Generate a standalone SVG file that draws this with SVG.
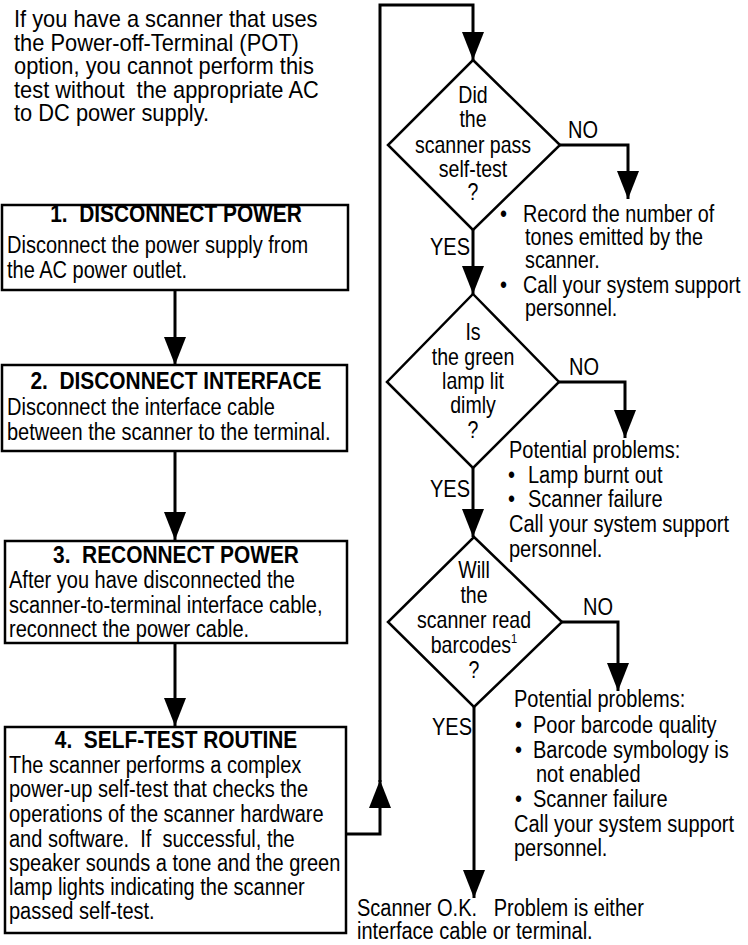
<svg xmlns="http://www.w3.org/2000/svg" width="748" height="945" viewBox="0 0 748 945">
<defs>
<marker id="ah" markerUnits="userSpaceOnUse" markerWidth="30" markerHeight="24" refX="28" refY="11" orient="auto">
<path d="M0,0 L28,11 L0,22 Z" fill="#000"/>
</marker>
<style>
text{font-family:"Liberation Sans",Arial,sans-serif;font-size:23px;fill:#000;white-space:pre}
.t{font-weight:bold;text-anchor:middle;font-size:24px}
.c{text-anchor:middle}
.box{fill:#fff;stroke:#000;stroke-width:2.5}
.dia{fill:#fff;stroke:#000;stroke-width:2.5}
.ln{fill:none;stroke:#000;stroke-width:3}
</style>
</defs>
<g id="note">
<text transform="translate(14,27) scale(0.95,1)">If you have a scanner that uses</text>
<text transform="translate(14,50.5) scale(0.95,1)">the Power-off-Terminal (POT)</text>
<text transform="translate(14,74) scale(0.95,1)">option, you cannot perform this</text>
<text xml:space="preserve" transform="translate(14,97.5) scale(0.95,1)">test without  the appropriate AC</text>
<text transform="translate(14,121) scale(0.95,1)">to DC power supply.</text>
</g>
<g id="connectors">
<path class="ln" d="M175,290 V365" marker-end="url(#ah)"/>
<path class="ln" d="M175,451 V540" marker-end="url(#ah)"/>
<path class="ln" d="M175,643 V726" marker-end="url(#ah)"/>
<path class="ln" d="M347,834 H380 V780" marker-end="url(#ah)"/>
<path class="ln" d="M380,782 V5 H473 V60" marker-end="url(#ah)"/>
<path class="ln" d="M560,145 H628 V199" marker-end="url(#ah)"/>
<path class="ln" d="M473,230 V294" marker-end="url(#ah)"/>
<path class="ln" d="M559,382 H625 V438" marker-end="url(#ah)"/>
<path class="ln" d="M473,468 V537" marker-end="url(#ah)"/>
<path class="ln" d="M562,622 H618 V691" marker-end="url(#ah)"/>
<path class="ln" d="M474,707 V898" marker-end="url(#ah)"/>
</g>
<g id="step1">
<rect class="box" x="2" y="205" width="346" height="85"/>
<text xml:space="preserve" class="t" transform="translate(176,222) scale(0.87,1)">1.  DISCONNECT POWER</text>
<text transform="translate(7,253) scale(0.87,1)">Disconnect the power supply from</text>
<text transform="translate(7,278) scale(0.87,1)">the AC power outlet.</text>
</g>
<g id="step2">
<rect class="box" x="2" y="365" width="345" height="86"/>
<text xml:space="preserve" class="t" transform="translate(176,389) scale(0.87,1)">2.  DISCONNECT INTERFACE</text>
<text transform="translate(7,415) scale(0.87,1)">Disconnect the interface cable</text>
<text transform="translate(7,440) scale(0.87,1)">between the scanner to the terminal.</text>
</g>
<g id="step3">
<rect class="box" x="5" y="541" width="342" height="102"/>
<text xml:space="preserve" class="t" transform="translate(176,563) scale(0.87,1)">3.  RECONNECT POWER</text>
<text transform="translate(9,588) scale(0.87,1)">After you have disconnected the</text>
<text transform="translate(9,613) scale(0.87,1)">scanner-to-terminal interface cable,</text>
<text transform="translate(9,637) scale(0.87,1)">reconnect the power cable.</text>
</g>
<g id="step4">
<rect class="box" x="5" y="727" width="341" height="206"/>
<text xml:space="preserve" class="t" transform="translate(176,748) scale(0.87,1)">4.  SELF-TEST ROUTINE</text>
<text transform="translate(9,773) scale(0.87,1)">The scanner performs a complex</text>
<text transform="translate(9,797) scale(0.87,1)">power-up self-test that checks the</text>
<text transform="translate(9,822) scale(0.87,1)">operations of the scanner hardware</text>
<text xml:space="preserve" transform="translate(9,847) scale(0.87,1)">and software.  If  successful, the</text>
<text transform="translate(9,871) scale(0.87,1)">speaker sounds a tone and the green</text>
<text transform="translate(9,895) scale(0.87,1)">lamp lights indicating the scanner</text>
<text transform="translate(9,919) scale(0.87,1)">passed self-test.</text>
</g>
<g id="decision1">
<polygon class="dia" points="473,60 560,145 473,230 388,145"/>
<text class="c" transform="translate(473,103) scale(0.85,1)">Did</text>
<text class="c" transform="translate(473,127) scale(0.85,1)">the</text>
<text class="c" transform="translate(473,153) scale(0.85,1)">scanner pass</text>
<text class="c" transform="translate(473,177) scale(0.85,1)">self-test</text>
<text class="c" transform="translate(473,200) scale(0.85,1)">?</text>
</g>
<g id="labels1">
<text transform="translate(568,138) scale(0.87,1)">NO</text>
<text transform="translate(430,255) scale(0.87,1)">YES</text>
</g>
<g id="result1">
<text transform="translate(500,222) scale(0.87,1)">•</text>
<text transform="translate(523,222) scale(0.86,1)">Record the number of</text>
<text transform="translate(525,245) scale(0.86,1)">tones emitted by the</text>
<text transform="translate(525,268) scale(0.86,1)">scanner.</text>
<text transform="translate(500,293) scale(0.87,1)">•</text>
<text transform="translate(523,293) scale(0.86,1)">Call your system support</text>
<text transform="translate(525,316) scale(0.86,1)">personnel.</text>
</g>
<g id="decision2">
<polygon class="dia" points="473,294 559,382 473,468 387,382"/>
<text class="c" transform="translate(473,340) scale(0.85,1)">Is</text>
<text class="c" transform="translate(473,365) scale(0.85,1)">the green</text>
<text class="c" transform="translate(473,389) scale(0.85,1)">lamp lit</text>
<text class="c" transform="translate(473,413) scale(0.85,1)">dimly</text>
<text class="c" transform="translate(473,438) scale(0.85,1)">?</text>
</g>
<g id="labels2">
<text transform="translate(569,375) scale(0.87,1)">NO</text>
<text transform="translate(430,497) scale(0.87,1)">YES</text>
</g>
<g id="result2">
<text transform="translate(509,458) scale(0.87,1)">Potential problems:</text>
<text transform="translate(508,483) scale(0.87,1)">•</text>
<text transform="translate(528,483) scale(0.87,1)">Lamp burnt out</text>
<text transform="translate(508,507) scale(0.87,1)">•</text>
<text transform="translate(528,507) scale(0.87,1)">Scanner failure</text>
<text transform="translate(509,532) scale(0.87,1)">Call your system support</text>
<text transform="translate(509,557) scale(0.87,1)">personnel.</text>
</g>
<g id="decision3">
<polygon class="dia" points="474,537 562,622 474,707 388,622"/>
<text class="c" transform="translate(474,578) scale(0.85,1)">Will</text>
<text class="c" transform="translate(474,603) scale(0.85,1)">the</text>
<text class="c" transform="translate(474,628) scale(0.85,1)">scanner read</text>
<text class="c" transform="translate(474,653) scale(0.85,1)">barcodes<tspan font-size="13" dy="-10">1</tspan></text>
<text class="c" transform="translate(474,678) scale(0.85,1)">?</text>
</g>
<g id="labels3">
<text transform="translate(583,615) scale(0.87,1)">NO</text>
<text transform="translate(432,735) scale(0.87,1)">YES</text>
</g>
<g id="result3">
<text transform="translate(514,707) scale(0.87,1)">Potential problems:</text>
<text transform="translate(515,733) scale(0.87,1)">•</text>
<text transform="translate(533,733) scale(0.87,1)">Poor barcode quality</text>
<text transform="translate(515,758) scale(0.87,1)">•</text>
<text transform="translate(533,758) scale(0.87,1)">Barcode symbology is</text>
<text transform="translate(536,782) scale(0.87,1)">not enabled</text>
<text transform="translate(515,807) scale(0.87,1)">•</text>
<text transform="translate(533,807) scale(0.87,1)">Scanner failure</text>
<text transform="translate(514,832) scale(0.87,1)">Call your system support</text>
<text transform="translate(514,856) scale(0.87,1)">personnel.</text>
</g>
<g id="end">
<text xml:space="preserve" transform="translate(357,916) scale(0.87,1)">Scanner O.K.   Problem is either</text>
<text transform="translate(357,939) scale(0.87,1)">interface cable or terminal.</text>
</g>
</svg>
